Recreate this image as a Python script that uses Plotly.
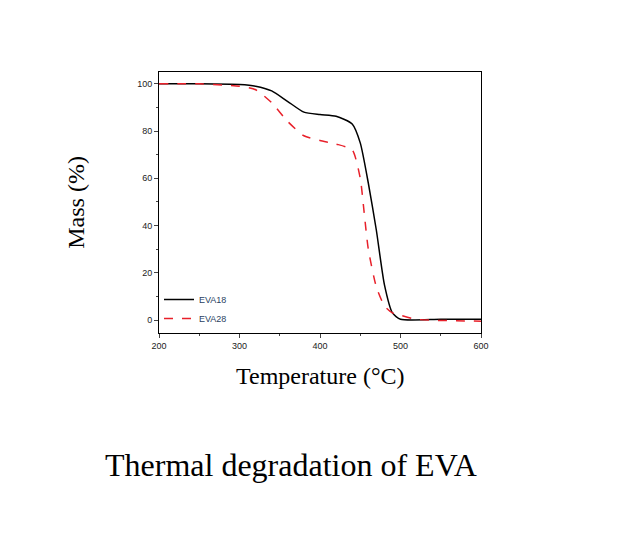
import plotly.graph_objects as go

temp18 = [200, 250, 300, 320, 340, 360, 380, 400, 420, 440, 450, 460, 470, 480, 490, 500, 550, 600]
mass18 = [100, 100, 99.7, 99, 97, 92.5, 88, 87, 86.3, 83, 75, 58, 38, 15, 3, 0.3, 0.3, 0.3]
temp28 = [200, 250, 280, 300, 320, 340, 360, 380, 400, 420, 440, 450, 455, 460, 470, 480, 490, 500, 520, 600]
mass28 = [100, 100, 99.5, 99, 97.5, 92, 84, 78, 76, 74.5, 72, 60, 45, 30, 14, 6, 3, 2, 0.3, -0.5]

serif = "Liberation Serif, Times New Roman, serif"

fig = go.Figure()
fig.add_trace(go.Scatter(x=temp18, y=mass18, name="EVA18", mode="lines",
                         line=dict(color="black", width=1.5, shape="spline", smoothing=0.6)))
fig.add_trace(go.Scatter(x=temp28, y=mass28, name="EVA28", mode="lines",
                         line=dict(color="#e8202a", width=1.5, dash="dash", shape="spline", smoothing=0.6)))

axis_common = dict(showline=True, mirror=True, linecolor="black", linewidth=1,
                   ticks="outside", ticklen=4, showgrid=False, zeroline=False,
                   tickfont=dict(family="Arial, Liberation Sans", size=9, color="#222"))
fig.update_xaxes(range=[200, 600], dtick=100, minor=dict(ticks="outside", ticklen=2, dtick=50), **axis_common)
fig.update_yaxes(range=[-5.5, 105], tickvals=[0, 20, 40, 60, 80, 100],
                 minor=dict(ticks="outside", ticklen=2, dtick=10), **axis_common)

fig.update_layout(
    width=630, height=553, plot_bgcolor="white", paper_bgcolor="white",
    margin=dict(l=151, r=157, t=64, b=228),
    showlegend=True,
    legend=dict(x=0.0, y=0.0, xanchor="left", yanchor="bottom", bgcolor="rgba(0,0,0,0)",
                font=dict(family="Arial, Liberation Sans", size=9), tracegroupgap=0,
                itemwidth=30),
    annotations=[
        dict(text="Mass (%)", textangle=-90, xref="paper", yref="paper", x=-0.26, y=0.5,
             xanchor="center", showarrow=False, font=dict(family=serif, size=24, color="black")),
        dict(text="Temperature (°C)", xref="paper", yref="paper", x=0.5, y=-0.165,
             yanchor="middle", showarrow=False, font=dict(family=serif, size=24, color="black")),
        dict(text="Thermal degradation of EVA", xref="paper", yref="paper", x=0.41, y=-0.505,
             yanchor="middle", showarrow=False, font=dict(family=serif, size=32, color="black")),
    ],
)

fig.write_html("out.html")
